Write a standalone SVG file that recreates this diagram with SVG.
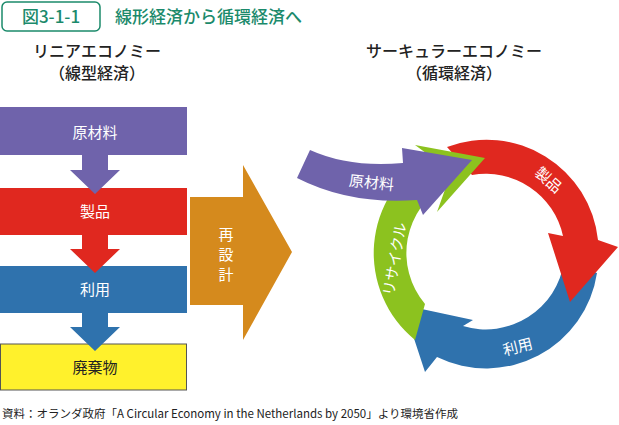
<svg xmlns="http://www.w3.org/2000/svg" width="619" height="425" viewBox="0 0 619 425">
<style>
text{font-family:"Noto Sans CJK JP","Noto Sans",sans-serif}
.w{fill:#fff;font-size:15px;text-anchor:middle}
.h{fill:#222;font-size:16px;text-anchor:middle;font-weight:500}
</style>
<rect width="619" height="425" fill="#fff"/>
<g id="title">
<rect x="2" y="2" width="98" height="29" rx="5" fill="#fff" stroke="#1b8a6b" stroke-width="1.5"/>
<text x="51" y="23" font-size="17" fill="#1b8a6b" text-anchor="middle" font-weight="500">図3-1-1</text>
<text x="115" y="23" font-size="17" fill="#1b8a6b" font-weight="500">線形経済から循環経済へ</text>
</g>
<g id="headings">
<text class="h" x="97" y="57">リニアエコノミー</text>
<text class="h" x="97" y="79" font-size="15">（線型経済）</text>
<text class="h" x="454" y="57">サーキュラーエコノミー</text>
<text class="h" x="454" y="79" font-size="15">（循環経済）</text>
</g>
<g id="linear">
<rect id="n1" x="0" y="107" width="187" height="48" fill="#6f63ab"/>
<rect id="n2" x="0" y="188" width="187" height="47" fill="#e0281f"/>
<rect id="n3" x="0" y="266" width="187" height="47" fill="#2f72ad"/>
<rect id="n4" x="0.5" y="344" width="186" height="46" fill="#fff12c" stroke="#555" stroke-width="1"/>
<g id="connectors">
<path d="M82,155H108V170H120L95,194L70,170H82Z" fill="#6f63ab"/>
<path d="M82,235H108V249H120L95,273L70,249H82Z" fill="#e0281f"/>
<path d="M82,313H108V327H120L95,351L70,327H82Z" fill="#2f72ad"/>
</g>
<text class="w" x="95" y="138">原材料</text>
<text class="w" x="95" y="217">製品</text>
<text class="w" x="95" y="295">利用</text>
<text x="95" y="373" font-size="15" text-anchor="middle" fill="#222">廃棄物</text>
</g>
<g id="redesign">
<path d="M190,197H243V165L292,252L243,340V305H190Z" fill="#d58a1d"/>
<text class="w" x="226" y="240">再</text>
<text class="w" x="226" y="260">設</text>
<text class="w" x="226" y="280">計</text>
</g>
<g id="cycle">
<path id="blue" d="M597,273 A112,112 0 0 1 437,357 L425,372 L403,305 L473,320 L463,326 A79,79 0 0 0 564,262 Z" fill="#2f72ad"/>
<path id="red" d="M447,147 A112,112 0 0 1 598,240 L618,247 L570,302 L548,233 L563,236 A79,79 0 0 0 472,175 Z" fill="#e0281f"/>
<path id="green" d="M415,340 A112,112 0 0 1 430,156 L415,145 L485,158 L437,212 L447,184 A79,79 0 0 0 425,304 Z" fill="#8cc21f"/>
<path id="purple" d="M310,150 Q350,168 403,163 L402,148 L472,160 L423,215 L417,200 Q350,205 297,178 Z" fill="#6f63ab"/>
<text class="w" transform="translate(371,188) rotate(6)">原材料</text>
<text class="w" transform="translate(545,184) rotate(42)">製品</text>
<text class="w" transform="translate(519,352) rotate(-14)">利用</text>
<text class="w" transform="translate(400,260) rotate(-80)">リサイクル</text>
</g>
<text x="2" y="418" font-size="11.5" fill="#222">資料：オランダ政府「A Circular Economy in the Netherlands by 2050」より環境省作成</text>
</svg>
